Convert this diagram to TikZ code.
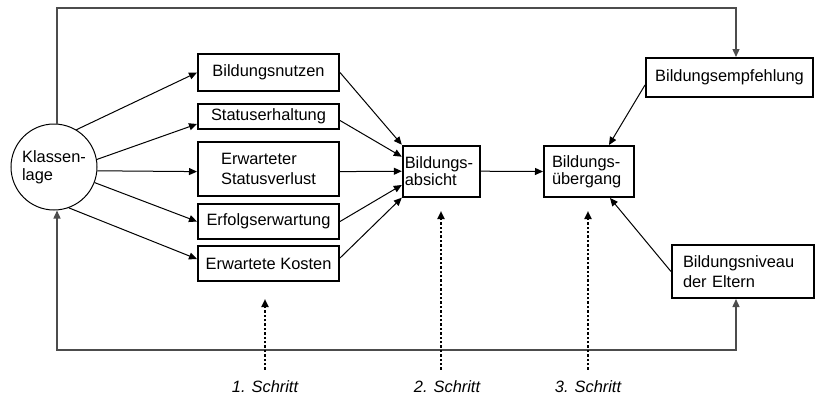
\documentclass[tikz,border=0pt]{standalone}
\usepackage{fontspec}
\setmainfont{Liberation Sans}
\usetikzlibrary{arrows.meta}

\begin{document}
\begin{tikzpicture}[x=0.5pt, y=-0.5pt,
    >={Triangle[length=4pt,width=3.5pt]},
    font=\fontsize{8.2}{9.6}\selectfont,
    box/.style={draw, line width=1pt, inner sep=0pt},
    conn/.style={->, line width=0.5pt},
    frame/.style={line width=0.65pt, draw=black!70},
    stepline/.style={->, line width=1pt, dash pattern=on 1.2pt off 1pt},
    steplabel/.style={font=\fontsize{8.2}{9.6}\selectfont\itshape, anchor=base, inner sep=0pt}]
    \useasboundingbox (0,0) rectangle (816,398);
    \coordinate (topL) at (57,8);
    \coordinate (topR) at (736,8);
    \coordinate (botL) at (57,350);
    \coordinate (botR) at (736,350);

    \node[draw, circle, line width=0.5pt, minimum size=43pt, inner sep=0pt, align=left,
        font=\fontsize{8.2}{9.2}\selectfont] (kl) at (54,167) {Klassen-\\lage};

    \node[box, minimum width=70.5pt, minimum height=18.5pt] (nutzen) at (268.5,72.5) {Bildungsnutzen};
    \node[box, minimum width=70.5pt, minimum height=12.5pt] (status) at (268.5,116.5) {Statuserhaltung};
    \node[box, minimum width=70.5pt, minimum height=27pt, align=left] (verlust) at (268.5,169) {Erwarteter\\Statusverlust};
    \node[box, minimum width=70.5pt, minimum height=17.5pt] (erfolg) at (268.5,221.5) {Erfolgserwartung};
    \node[box, minimum width=70.5pt, minimum height=17.5pt] (kosten) at (268.5,263.5) {Erwartete Kosten};

    \node[box, minimum height=25.5pt, inner xsep=1pt, text width=36.5pt, align=left,
        font=\fontsize{8.2}{7.5}\selectfont] (absicht) at (441.3,171.2) {Bildungs-\\absicht};
    \node[box, minimum height=25.5pt, inner xsep=4pt, text width=37pt, align=left,
        font=\fontsize{8.2}{7.5}\selectfont] (uebergang) at (589,171.5) {Bildungs-\\übergang};
    \node[box, minimum width=83.5pt, minimum height=19.5pt] (empfehlung) at (729.5,77.5) {Bildungsempfehlung};
    \node[box, minimum height=26.5pt, inner xsep=5.5pt, text width=60pt, align=left,
        font=\fontsize{8.2}{10}\selectfont] (niveau) at (743,271.5) {Bildungsniveau\\der Eltern};

    % Klassenlage -> Motive
    \draw[conn] (kl.59) -- (nutzen.west);
    \draw[conn] (kl.10) -- ([yshift=-3.75pt]status.west);
    \draw[conn] (kl.-5) -- ([yshift=-1.3pt]verlust.west);
    \draw[conn] (kl.-21) -- (erfolg.west);
    \draw[conn] (kl.-70) -- ([yshift=2.25pt]kosten.west);

    % Motive -> Bildungsabsicht
    \draw[conn] (nutzen.east) -- (absicht.north west);
    \draw[conn] ([yshift=-2pt]status.east) -- ([yshift=7.25pt]absicht.west);
    \draw[conn] ([yshift=-1.3pt]verlust.east) -- (absicht.west);
    \draw[conn] (erfolg.east) -- ([yshift=-6.9pt]absicht.west);
    \draw[conn] ([yshift=2.75pt]kosten.east) -- (absicht.south west);

    \draw[conn] (absicht.east) -- (uebergang.west);
    \draw[conn] ([yshift=-3.75pt]empfehlung.west) -- ([xshift=10pt]uebergang.north);
    \draw[conn] (niveau.west) -- ([xshift=10.5pt]uebergang.south);

    % Rahmen
    \draw[frame, ->] (topL |- kl.north) -- (topL) -- (topR) -- (topR |- empfehlung.north);
    \draw[frame, <->] (botL |- kl.south) -- (botL) -- (botR) -- (botR |- niveau.south);

    % Schritte
    \coordinate (t1) at (265,299);
    \coordinate (t2) at (441,211);
    \coordinate (t3) at (588,211);
    \node[steplabel] (s1) at (265,392) {1. Schritt};
    \node[steplabel] (s2) at (447,392) {2. Schritt};
    \node[steplabel] (s3) at (588,392) {3. Schritt};
    \draw[stepline, shorten <=5pt] (t1 |- s1.north) -- (t1);
    \draw[stepline, shorten <=5pt] (t2 |- s2.north) -- (t2);
    \draw[stepline, shorten <=5pt] (t3 |- s3.north) -- (t3);
\end{tikzpicture}
\end{document}
